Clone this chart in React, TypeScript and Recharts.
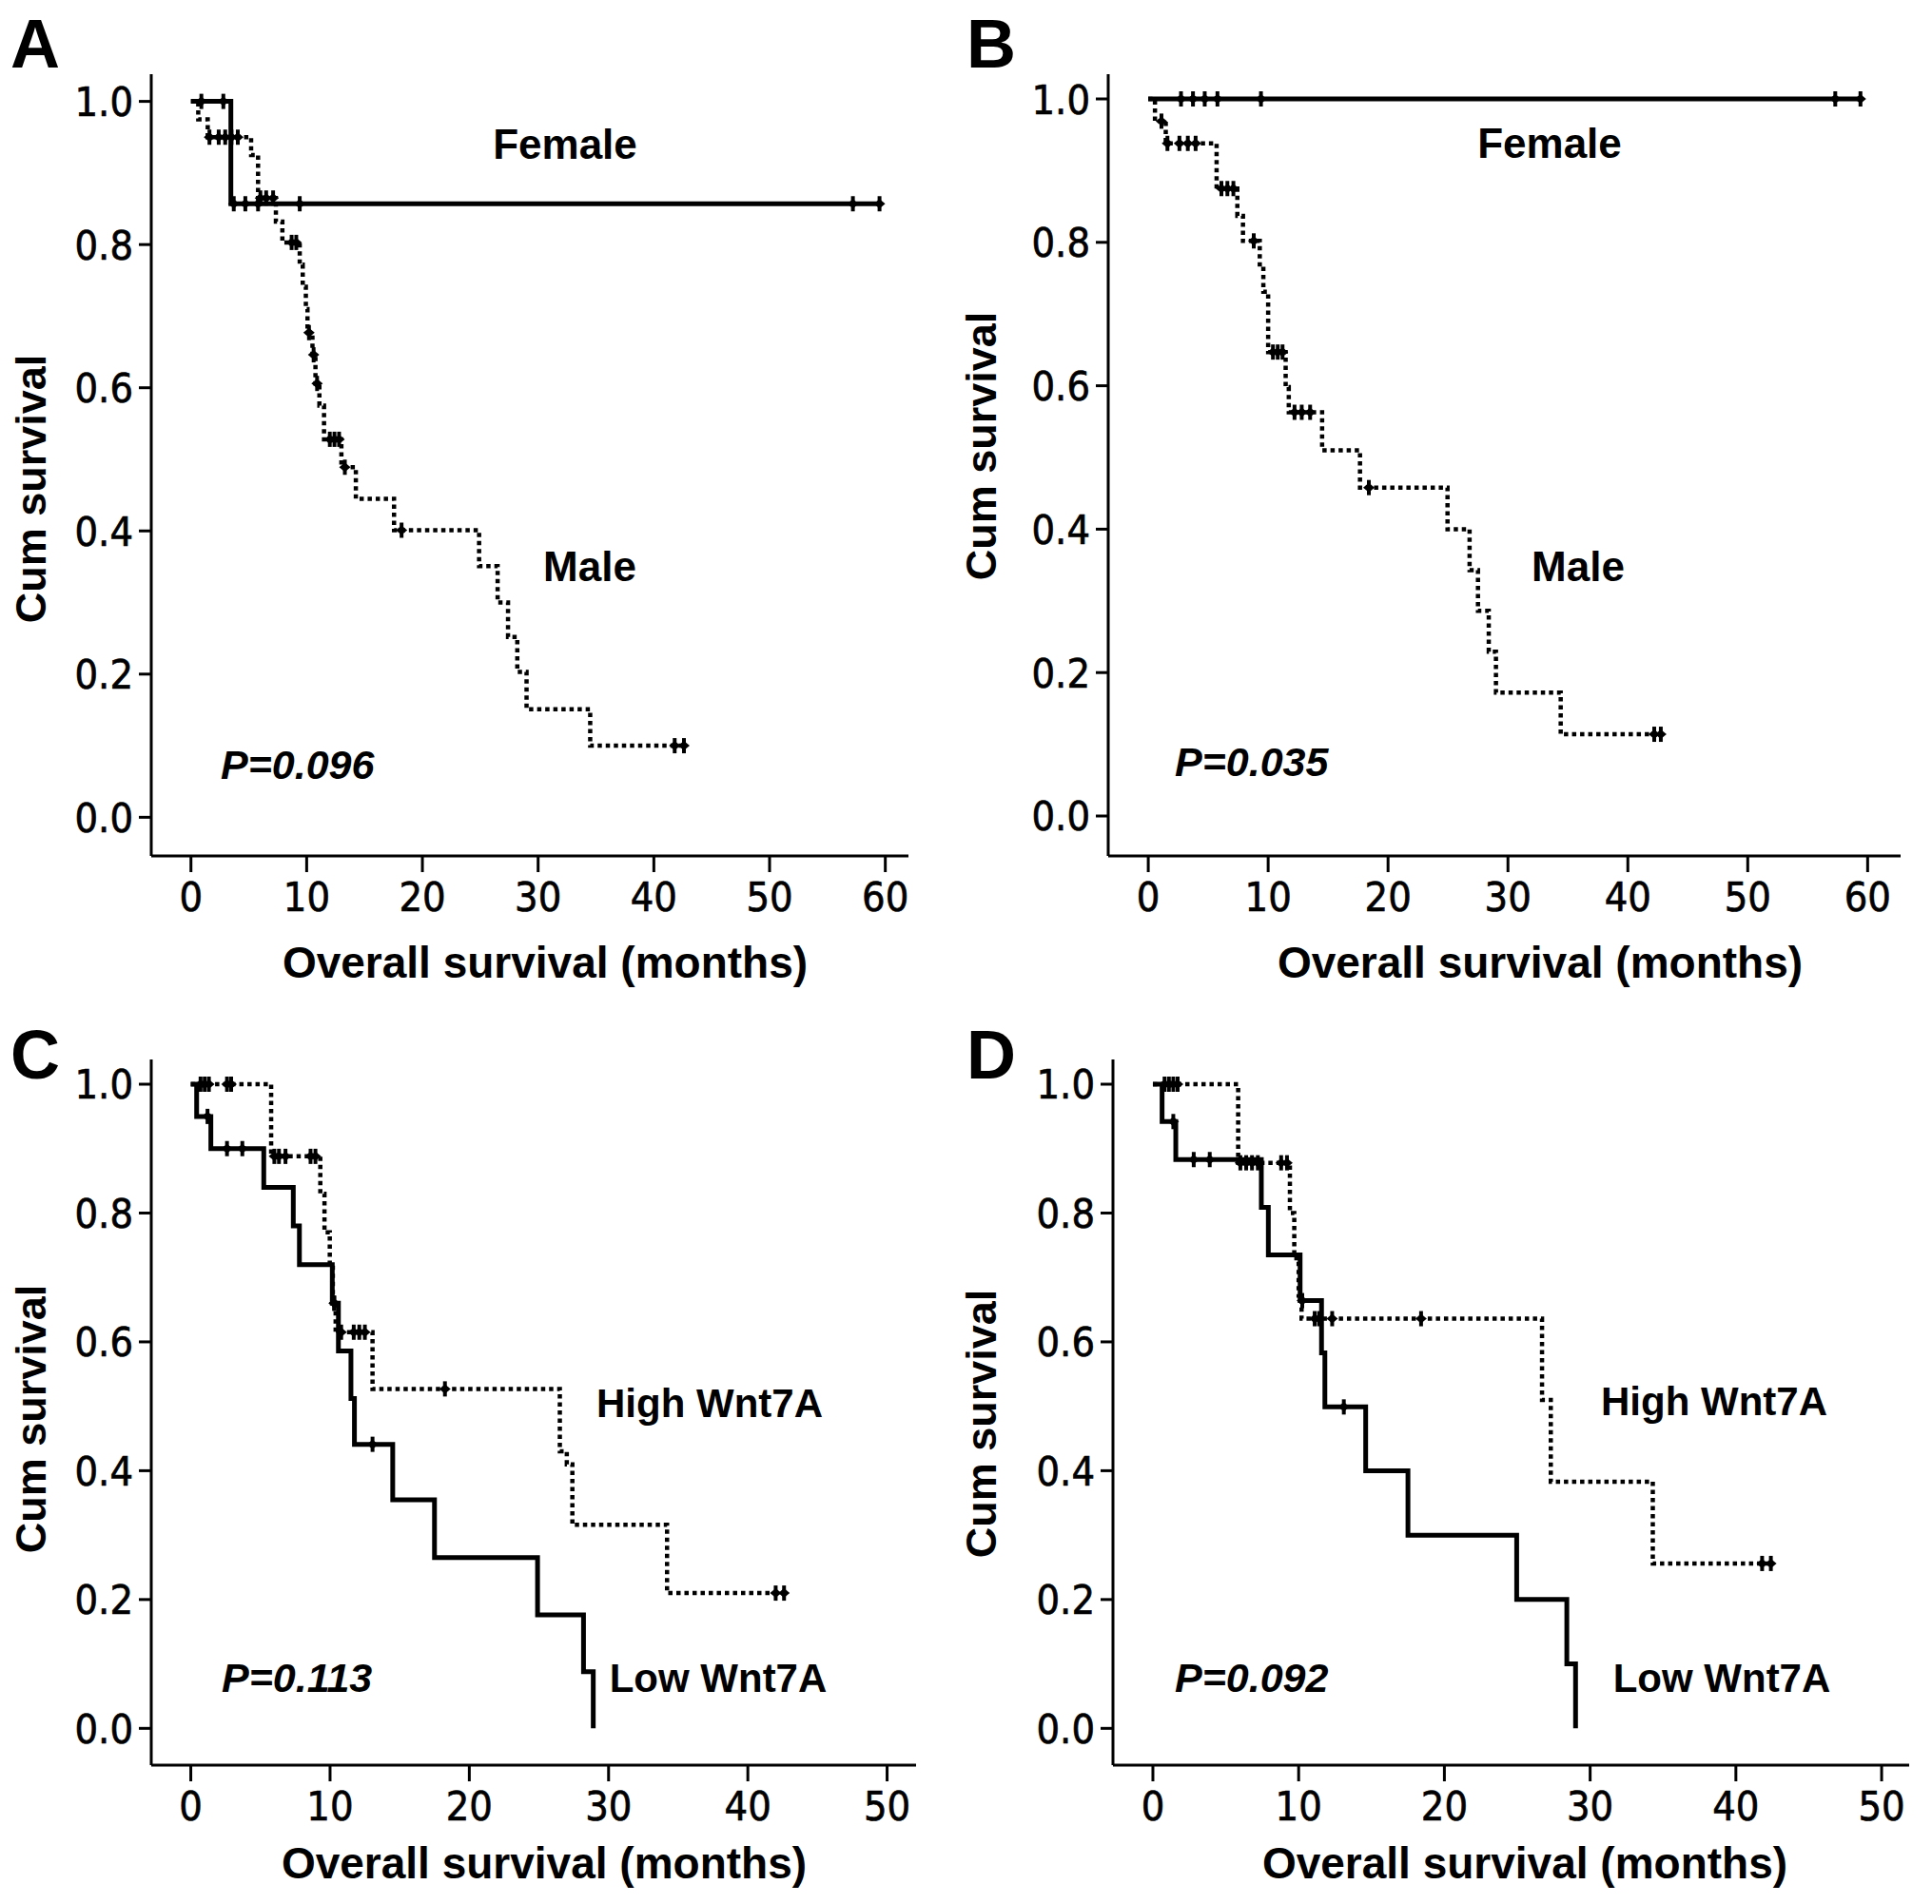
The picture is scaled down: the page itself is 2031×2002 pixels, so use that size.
import React from 'react';
import { ComposedChart, Line, XAxis, YAxis } from 'recharts';

// ---------- DATA ----------
const Y_TICKS = [0, 0.2, 0.4, 0.6, 0.8, 1.0];
const X_TICKS_60 = [0, 10, 20, 30, 40, 50, 60];
const X_TICKS_50 = [0, 10, 20, 30, 40, 50];

// Panel A : Female (solid) / Male (dotted)
const A_FEMALE_EVENT_T = [3.45];
const A_FEMALE_EVENT_S = [0.857];
const A_FEMALE_CENSOR_T = [0.9, 2.8, 3.7, 4.7, 5.8, 9.4, 57.2, 59.5];

const A_MALE_EVENT_T = [0.63, 1.45, 5.2, 5.8, 7.34, 7.9, 9.4, 9.66, 9.93, 10.07, 10.5, 10.76, 11.1, 11.5, 13.0, 14.25, 17.55, 24.9, 26.5, 27.4, 28.2, 29.0, 34.5];
const A_MALE_EVENT_S = [0.975, 0.95, 0.925, 0.865, 0.832, 0.803, 0.772, 0.741, 0.71, 0.677, 0.646, 0.606, 0.575, 0.528, 0.489, 0.445, 0.401, 0.351, 0.3, 0.252, 0.203, 0.151, 0.1];
const A_MALE_CENSOR_T = [1.6, 2.4, 2.96, 3.5, 4.05, 6.0, 6.5, 7.1, 8.7, 9.1, 10.2, 10.6, 10.9, 12.0, 12.4, 12.8, 13.3, 18.2, 41.8, 42.6];

// Panel B : Female (solid) / Male (dotted)
const B_FEMALE_EVENT_T: number[] = [];
const B_FEMALE_EVENT_S: number[] = [];
const B_FEMALE_CENSOR_T = [2.73, 3.73, 4.71, 5.77, 9.4, 57.3, 59.4];

const B_MALE_EVENT_T = [0.56, 1.46, 5.7, 7.43, 7.9, 9.3, 9.6, 10.0, 11.46, 11.72, 14.5, 17.66, 24.96, 26.8, 27.5, 28.4, 29.0, 34.4];
const B_MALE_EVENT_S = [0.969, 0.938, 0.875, 0.837, 0.802, 0.766, 0.731, 0.647, 0.598, 0.563, 0.51, 0.458, 0.4, 0.343, 0.286, 0.229, 0.172, 0.114];
const B_MALE_CENSOR_T = [1.1, 1.6, 2.6, 3.3, 3.95, 6.1, 6.6, 7.1, 8.8, 10.4, 10.8, 11.2, 12.2, 12.8, 13.5, 18.4, 42.2, 42.75];

// Panel C : Low Wnt7A (solid) / High Wnt7A (dotted)
const C_LOW_EVENT_T = [0.42, 1.44, 5.24, 7.36, 7.8, 10.16, 10.6, 11.5, 11.75, 14.5, 17.5, 24.9, 28.2, 28.9];
const C_LOW_EVENT_S = [0.95, 0.9, 0.84, 0.78, 0.72, 0.66, 0.586, 0.512, 0.441, 0.355, 0.265, 0.176, 0.088, 0];
const C_LOW_CENSOR_T = [1.2, 2.6, 3.7, 10.3, 13.05];

const C_HIGH_EVENT_T = [5.77, 9.3, 9.6, 9.98, 10.2, 10.4, 13.05, 26.5, 27.0, 27.4, 34.2];
const C_HIGH_EVENT_S = [0.888, 0.83, 0.77, 0.72, 0.66, 0.615, 0.527, 0.43, 0.41, 0.316, 0.21];
const C_HIGH_CENSOR_T = [0.7, 1.0, 1.3, 2.6, 2.9, 6.0, 6.33, 6.8, 8.6, 8.95, 10.3, 10.8, 11.7, 12.1, 12.5, 18.25, 42.0, 42.6];

// Panel D : Low Wnt7A (solid) / High Wnt7A (dotted)
const D_LOW_EVENT_T = [0.63, 1.57, 7.44, 7.92, 10.1, 11.57, 11.8, 14.6, 17.5, 24.96, 28.4, 29.0];
const D_LOW_EVENT_S = [0.942, 0.883, 0.809, 0.735, 0.664, 0.583, 0.499, 0.4, 0.3, 0.2, 0.1, 0];
const D_LOW_CENSOR_T = [1.4, 2.8, 3.9, 10.25, 13.1];

const D_HIGH_EVENT_T = [5.85, 9.4, 9.7, 10.0, 10.2, 26.7, 27.3, 34.3];
const D_HIGH_EVENT_S = [0.878, 0.8, 0.73, 0.672, 0.636, 0.51, 0.383, 0.256];
const D_HIGH_CENSOR_T = [0.8, 1.1, 1.4, 1.7, 6.0, 6.4, 6.8, 7.2, 8.8, 9.2, 11.1, 11.4, 12.3, 18.4, 41.8, 42.4];

// ---------- HELPERS ----------
type Pt = { t: number; s: number; c: boolean };

function buildCurve(eventT: number[], eventS: number[], censorT: number[]): Pt[] {
  const pts: Pt[] = [{ t: 0, s: 1, c: false }];
  eventT.forEach((t, i) => pts.push({ t, s: eventS[i], c: false }));
  censorT.forEach((t) => {
    let s = 1;
    eventT.forEach((et, i) => {
      if (et <= t) s = eventS[i];
    });
    pts.push({ t, s, c: true });
  });
  pts.sort((a, b) => a.t - b.t || (a.c === b.c ? 0 : a.c ? 1 : -1));
  return pts;
}

const censorDot = (props: any) => {
  const { cx, cy, payload, index } = props;
  if (!payload || !payload.c || cx == null || cy == null) return <g key={`n${index}`} />;
  return (
    <g key={`c${index}`}>
      <line x1={cx} x2={cx} y1={cy - 8} y2={cy + 8} stroke="#000" strokeWidth={4} />
      <path d={`M${cx - 6},${cy} L${cx},${cy - 5} L${cx + 6},${cy} L${cx},${cy + 5} Z`} fill="#000" />
    </g>
  );
};

const TICK_FONT = "'DejaVu Sans', Verdana, sans-serif";
const BOLD_FONT = "'Liberation Sans', Arial, Helvetica, sans-serif";

const TickY = (props: any) => {
  const { x, y, payload } = props;
  return (
    <text
      transform={`translate(${x},${y}) scale(0.9,1)`}
      textAnchor="end"
      dy="0.36em"
      fontFamily={TICK_FONT}
      fontSize={43}
      fill="#000"
      stroke="#000"
      strokeWidth={0.7}
    >
      {Number(payload.value).toFixed(1)}
    </text>
  );
};

const TickX = (props: any) => {
  const { x, y, payload } = props;
  return (
    <text
      transform={`translate(${x},${y}) scale(0.9,1)`}
      textAnchor="middle"
      dy="0.73em"
      fontFamily={TICK_FONT}
      fontSize={43}
      fill="#000"
      stroke="#000"
      strokeWidth={0.7}
    >
      {String(payload.value)}
    </text>
  );
};

type PanelProps = {
  left: number;
  top: number;
  width: number;
  height: number;
  margin: { top: number; right: number; bottom: number; left: number };
  yAxisWidth: number;
  xDomain: [number, number];
  yDomain: [number, number];
  xTicks: number[];
  solid: Pt[];
  dotted: Pt[];
};

function Panel(p: PanelProps) {
  return (
    <div style={{ position: 'absolute', left: p.left, top: p.top, width: p.width, height: p.height }}>
      <ComposedChart width={p.width} height={p.height} margin={p.margin}>
        <XAxis
          type="number"
          dataKey="t"
          domain={p.xDomain}
          allowDataOverflow
          ticks={p.xTicks}
          interval={0}
          height={130}
          tickSize={17}
          tickMargin={10}
          axisLine={{ stroke: '#000', strokeWidth: 3 }}
          tickLine={{ stroke: '#000', strokeWidth: 3 }}
          tick={(tp: any) => <TickX {...tp} />}
        />
        <YAxis
          type="number"
          domain={p.yDomain}
          allowDataOverflow
          ticks={Y_TICKS}
          interval={0}
          width={p.yAxisWidth}
          tickSize={13}
          tickMargin={6}
          axisLine={{ stroke: '#000', strokeWidth: 3 }}
          tickLine={{ stroke: '#000', strokeWidth: 3 }}
          tick={(tp: any) => <TickY {...tp} />}
        />
        <Line
          data={p.dotted}
          dataKey="s"
          type="stepAfter"
          stroke="#000"
          strokeWidth={4.5}
          strokeDasharray="4.5 4"
          dot={censorDot}
          activeDot={false}
          isAnimationActive={false}
        />
        <Line
          data={p.solid}
          dataKey="s"
          type="stepAfter"
          stroke="#000"
          strokeWidth={5}
          dot={censorDot}
          activeDot={false}
          isAnimationActive={false}
        />
      </ComposedChart>
    </div>
  );
}

export default function App() {
  const aFemale = buildCurve(A_FEMALE_EVENT_T, A_FEMALE_EVENT_S, A_FEMALE_CENSOR_T);
  const aMale = buildCurve(A_MALE_EVENT_T, A_MALE_EVENT_S, A_MALE_CENSOR_T);
  const bFemale = buildCurve(B_FEMALE_EVENT_T, B_FEMALE_EVENT_S, B_FEMALE_CENSOR_T);
  const bMale = buildCurve(B_MALE_EVENT_T, B_MALE_EVENT_S, B_MALE_CENSOR_T);
  const cLow = buildCurve(C_LOW_EVENT_T, C_LOW_EVENT_S, C_LOW_CENSOR_T);
  const cHigh = buildCurve(C_HIGH_EVENT_T, C_HIGH_EVENT_S, C_HIGH_CENSOR_T);
  const dLow = buildCurve(D_LOW_EVENT_T, D_LOW_EVENT_S, D_LOW_CENSOR_T);
  const dHigh = buildCurve(D_HIGH_EVENT_T, D_HIGH_EVENT_S, D_HIGH_CENSOR_T);

  const letter = { fontFamily: BOLD_FONT, fontWeight: 700, fontSize: 72, fill: '#000' } as const;
  const title = { fontFamily: BOLD_FONT, fontWeight: 700, fontSize: 46, fill: '#000' } as const;
  const ytitle = { fontFamily: BOLD_FONT, fontWeight: 700, fontSize: 45, fill: '#000' } as const;
  const note = { fontFamily: BOLD_FONT, fontWeight: 700, fontSize: 44, fill: '#000' } as const;
  const note2 = { fontFamily: BOLD_FONT, fontWeight: 700, fontSize: 42, fill: '#000' } as const;
  const pval = { fontFamily: BOLD_FONT, fontWeight: 700, fontStyle: 'italic', fontSize: 43, fill: '#000' } as const;

  return (
    <div style={{ position: 'absolute', left: 0, top: 0, width: 2031, height: 2002, background: '#fff', overflow: 'hidden' }}>
      <Panel
        left={0} top={0} width={1015} height={1040}
        margin={{ top: 78, right: 60, bottom: 10, left: 0 }}
        yAxisWidth={159}
        xDomain={[-3.43, 62.0]} yDomain={[-0.054, 1.038]}
        xTicks={X_TICKS_60}
        solid={aFemale} dotted={aMale}
      />
      <Panel
        left={1015} top={0} width={1016} height={1040}
        margin={{ top: 78, right: 33, bottom: 10, left: 0 }}
        yAxisWidth={150}
        xDomain={[-3.34, 62.75]} yDomain={[-0.0557, 1.0345]}
        xTicks={X_TICKS_60}
        solid={bFemale} dotted={bMale}
      />
      <Panel
        left={0} top={1040} width={1015} height={962}
        margin={{ top: 74, right: 52, bottom: 16, left: 0 }}
        yAxisWidth={159}
        xDomain={[-2.84, 52.08]} yDomain={[-0.0571, 1.0384]}
        xTicks={X_TICKS_50}
        solid={cLow} dotted={cHigh}
      />
      <Panel
        left={1015} top={1040} width={1016} height={962}
        margin={{ top: 74, right: 24, bottom: 16, left: 0 }}
        yAxisWidth={155}
        xDomain={[-2.74, 51.89]} yDomain={[-0.0571, 1.0384]}
        xTicks={X_TICKS_50}
        solid={dLow} dotted={dHigh}
      />
      <svg width={2031} height={2002} style={{ position: 'absolute', left: 0, top: 0, pointerEvents: 'none' }}>
        {/* panel letters */}
        <text x={11} y={71} style={letter}>A</text>
        <text x={1016} y={71} style={letter}>B</text>
        <text x={11} y={1134} style={letter}>C</text>
        <text x={1016} y={1134} style={letter}>D</text>

        {/* y titles */}
        <text transform="translate(48,514) rotate(-90)" textAnchor="middle" style={ytitle}>Cum survival</text>
        <text transform="translate(1047,469) rotate(-90)" textAnchor="middle" style={ytitle}>Cum survival</text>
        <text transform="translate(48,1492) rotate(-90)" textAnchor="middle" style={ytitle}>Cum survival</text>
        <text transform="translate(1047,1497) rotate(-90)" textAnchor="middle" style={ytitle}>Cum survival</text>

        {/* x titles */}
        <text x={573} y={1028} textAnchor="middle" style={title}>Overall survival (months)</text>
        <text x={1619} y={1028} textAnchor="middle" style={title}>Overall survival (months)</text>
        <text x={572} y={1975} textAnchor="middle" style={title}>Overall survival (months)</text>
        <text x={1603} y={1975} textAnchor="middle" style={title}>Overall survival (months)</text>

        {/* annotations */}
        <text x={594} y={167} textAnchor="middle" style={note}>Female</text>
        <text x={620} y={611} textAnchor="middle" style={note}>Male</text>
        <text x={232} y={819} style={pval}>P=0.096</text>

        <text x={1629} y={166} textAnchor="middle" style={note}>Female</text>
        <text x={1659} y={611} textAnchor="middle" style={note}>Male</text>
        <text x={1235} y={816} style={pval}>P=0.035</text>

        <text x={746} y={1490} textAnchor="middle" style={note2}>High Wnt7A</text>
        <text x={755} y={1779} textAnchor="middle" style={note2}>Low Wnt7A</text>
        <text x={233} y={1779} style={pval}>P=0.113</text>

        <text x={1802} y={1488} textAnchor="middle" style={note2}>High Wnt7A</text>
        <text x={1810} y={1779} textAnchor="middle" style={note2}>Low Wnt7A</text>
        <text x={1235} y={1779} style={pval}>P=0.092</text>
      </svg>
    </div>
  );
}
